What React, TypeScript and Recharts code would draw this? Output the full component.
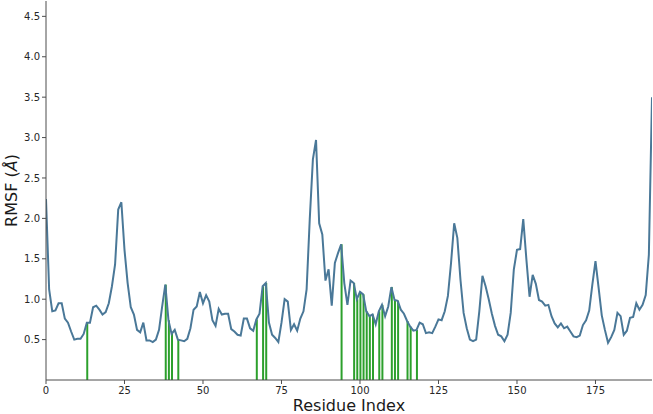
import { ComposedChart, Line, Bar, XAxis, YAxis, Label } from "recharts";

// RMSF per residue (Å), residues 0..193
const RMSF = [
  2.24, 1.12, 0.85, 0.86, 0.95, 0.95, 0.76, 0.71, 0.6, 0.5,
  0.51, 0.51, 0.57, 0.71, 0.71, 0.9, 0.92, 0.87, 0.81, 0.84,
  0.95, 1.16, 1.43, 2.11, 2.2, 1.61, 1.2, 0.9, 0.81, 0.62,
  0.59, 0.71, 0.49, 0.49, 0.47, 0.5, 0.62, 0.91, 1.18, 0.74,
  0.57, 0.62, 0.5, 0.49, 0.48, 0.51, 0.64, 0.87, 0.91, 1.09,
  0.95, 1.05, 0.97, 0.74, 0.67, 0.88, 0.81, 0.82, 0.82, 0.63,
  0.6, 0.56, 0.55, 0.76, 0.76, 0.64, 0.61, 0.75, 0.82, 1.16,
  1.2, 0.71, 0.56, 0.52, 0.47, 0.71, 1.0, 0.97, 0.62, 0.69,
  0.61, 0.76, 0.85, 1.12, 1.99, 2.73, 2.97, 1.94, 1.8, 1.23,
  1.37, 0.92, 1.45, 1.57, 1.68, 1.2, 0.93, 1.23, 1.2, 1.0,
  1.09, 1.06, 0.85, 0.79, 0.81, 0.69, 0.85, 0.93, 0.79, 0.91,
  1.15, 0.99, 0.98, 0.87, 0.82, 0.73, 0.66, 0.61, 0.62, 0.71,
  0.69, 0.58, 0.59, 0.58, 0.66, 0.75, 0.74, 0.85, 1.04, 1.45,
  1.94, 1.76, 1.24, 0.83, 0.64, 0.5, 0.48, 0.5, 0.85, 1.29,
  1.16, 1.0, 0.82, 0.67, 0.56, 0.54, 0.48, 0.56, 0.83, 1.37,
  1.61, 1.62, 1.99, 1.49, 1.03, 1.3, 1.19, 0.99, 0.97, 0.92,
  0.93, 0.79, 0.7, 0.65, 0.7, 0.64, 0.66, 0.6, 0.54, 0.53,
  0.55, 0.68, 0.74, 0.86, 1.18, 1.47, 1.14, 0.8, 0.62, 0.46,
  0.53, 0.62, 0.83, 0.79, 0.56, 0.61, 0.77, 0.78, 0.95, 0.87,
  0.93, 1.05, 1.55, 3.5,
];

// residues marked with green sticks
const HIGHLIGHTED = [
  13, 38, 39, 40, 42, 67, 69, 70, 94, 98, 99, 100, 101, 102, 103, 104,
  106, 107, 110, 111, 112, 115, 116, 118,
];

const X_TICKS = [0, 25, 50, 75, 100, 125, 150, 175];
const Y_TICKS = [0.5, 1.0, 1.5, 2.0, 2.5, 3.0, 3.5, 4.0, 4.5];

const data = RMSF.map((v, i) => ({
  res: i,
  rmsf: v,
  hl: HIGHLIGHTED.includes(i) ? v : null,
}));

const FONT = "DejaVu Sans";
const tickStyle = { fontSize: 10, fill: "#262626", fontFamily: FONT };

function YTitle({ viewBox }: any) {
  const cy = viewBox.y + viewBox.height / 2;
  return (
    <text
      x={0}
      y={0}
      transform={`translate(17, ${cy}) rotate(-90)`}
      textAnchor="middle"
      fontSize={16}
      fontFamily={FONT}
      fill="#1a1a1a"
    >
      RMSF (<tspan fontStyle="italic">Å</tspan>)
    </text>
  );
}

function XTitle({ viewBox }: any) {
  const cx = viewBox.x + viewBox.width / 2;
  return (
    <text
      x={cx}
      y={411}
      textAnchor="middle"
      fontSize={16}
      fontFamily={FONT}
      fill="#1a1a1a"
    >
      Residue Index
    </text>
  );
}

export default function App() {
  return (
    <div style={{ width: 653, height: 414, background: "#fff" }}>
      <style>{"body{margin:0}"}</style>
      <ComposedChart
        width={653}
        height={414}
        data={data}
        margin={{ top: 1, right: 1, bottom: 0, left: 0 }}
      >
        <XAxis
          dataKey="res"
          type="number"
          domain={[0, 193]}
          ticks={X_TICKS}
          allowDataOverflow
          height={34}
          tick={tickStyle}
          tickSize={4}
          tickMargin={3}
          stroke="#4d4d4d"
        >
          <Label content={<XTitle />} />
        </XAxis>
        <XAxis
          xAxisId="top"
          orientation="top"
          dataKey="res"
          type="number"
          domain={[0, 193]}
          height={0}
          tick={false}
          tickLine={false}
          stroke="#4d4d4d"
        />
        <YAxis
          type="number"
          domain={[0, 4.69]}
          ticks={Y_TICKS}
          allowDataOverflow
          width={46}
          tick={tickStyle}
          tickSize={4}
          tickMargin={2}
          tickFormatter={(v: number) => v.toFixed(1)}
          stroke="#4d4d4d"
        >
          <Label content={<YTitle />} />
        </YAxis>
        <YAxis
          yAxisId="right"
          orientation="right"
          domain={[0, 4.69]}
          width={0}
          tick={false}
          tickLine={false}
          stroke="#4d4d4d"
        />
        <Bar
          dataKey="hl"
          fill="#2ca02c"
          barSize={2}
          isAnimationActive={false}
        />
        <Line
          type="linear"
          dataKey="rmsf"
          stroke="#4a7898"
          strokeWidth={2}
          dot={false}
          isAnimationActive={false}
        />
      </ComposedChart>
    </div>
  );
}
